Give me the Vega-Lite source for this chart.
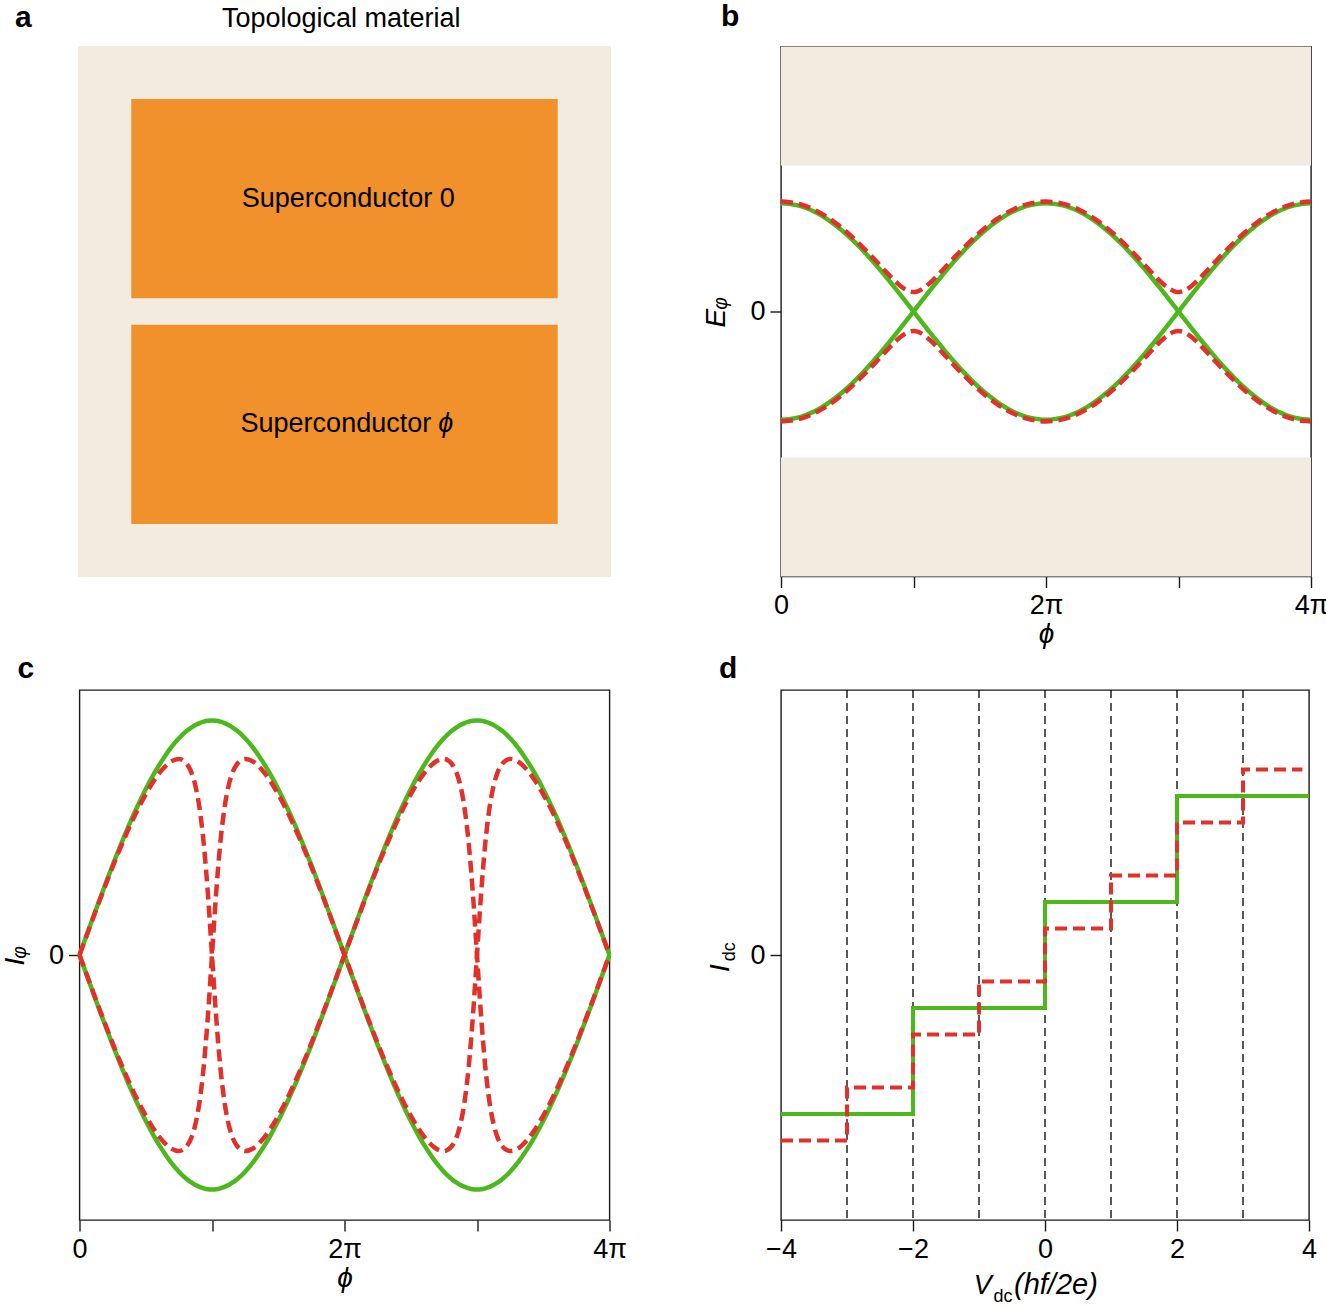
{
"$schema": "https://vega.github.io/schema/vega-lite/v6.json",
"padding": {"left": 0, "top": 0, "right": 0, "bottom": 0},
"background": "white",
"columns": 2,
"spacing": {"row": 113, "column": 170},
"bounds": "flush",
"center": true,
"datasets": {"phi": [
{"p":0,"eg":1,"eg2":-1,"er":1.016,"er2":-1.016,"ig":0,"ig2":0,"ir":0,"ir2":0},
{"p":0.0625,"eg":0.995,"eg2":-0.995,"er":1.011,"er2":-1.011,"ig":0.098,"ig2":-0.098,"ir":0.096,"ir2":-0.096},
{"p":0.125,"eg":0.981,"eg2":-0.981,"er":0.997,"er2":-0.997,"ig":0.195,"ig2":-0.195,"ir":0.192,"ir2":-0.192},
{"p":0.1875,"eg":0.957,"eg2":-0.957,"er":0.974,"er2":-0.974,"ig":0.29,"ig2":-0.29,"ir":0.285,"ir2":-0.285},
{"p":0.25,"eg":0.924,"eg2":-0.924,"er":0.941,"er2":-0.941,"ig":0.383,"ig2":-0.383,"ir":0.376,"ir2":-0.376},
{"p":0.3125,"eg":0.882,"eg2":-0.882,"er":0.9,"er2":-0.9,"ig":0.471,"ig2":-0.471,"ir":0.462,"ir2":-0.462},
{"p":0.375,"eg":0.831,"eg2":-0.831,"er":0.851,"er2":-0.851,"ig":0.556,"ig2":-0.556,"ir":0.543,"ir2":-0.543},
{"p":0.4375,"eg":0.773,"eg2":-0.773,"er":0.794,"er2":-0.794,"ig":0.634,"ig2":-0.634,"ir":0.618,"ir2":-0.618},
{"p":0.5,"eg":0.707,"eg2":-0.707,"er":0.73,"er2":-0.73,"ig":0.707,"ig2":-0.707,"ir":0.685,"ir2":-0.685},
{"p":0.5625,"eg":0.634,"eg2":-0.634,"er":0.659,"er2":-0.659,"ig":0.773,"ig2":-0.773,"ir":0.744,"ir2":-0.744},
{"p":0.625,"eg":0.556,"eg2":-0.556,"er":0.584,"er2":-0.584,"ig":0.831,"ig2":-0.831,"ir":0.791,"ir2":-0.791},
{"p":0.6875,"eg":0.471,"eg2":-0.471,"er":0.505,"er2":-0.505,"ig":0.882,"ig2":-0.882,"ir":0.824,"ir2":-0.824},
{"p":0.75,"eg":0.383,"eg2":-0.383,"er":0.423,"er2":-0.423,"ig":0.924,"ig2":-0.924,"ir":0.836,"ir2":-0.836},
{"p":0.78125,"eg":0.337,"eg2":-0.337,"er":0.382,"er2":-0.382,"ig":0.942,"ig2":-0.942,"ir":0.83,"ir2":-0.83},
{"p":0.8125,"eg":0.29,"eg2":-0.29,"er":0.342,"er2":-0.342,"ig":0.957,"ig2":-0.957,"ir":0.813,"ir2":-0.813},
{"p":0.84375,"eg":0.243,"eg2":-0.243,"er":0.302,"er2":-0.302,"ig":0.97,"ig2":-0.97,"ir":0.78,"ir2":-0.78},
{"p":0.875,"eg":0.195,"eg2":-0.195,"er":0.265,"er2":-0.265,"ig":0.981,"ig2":-0.981,"ir":0.721,"ir2":-0.721},
{"p":0.90625,"eg":0.147,"eg2":-0.147,"er":0.232,"er2":-0.232,"ig":0.989,"ig2":-0.989,"ir":0.625,"ir2":-0.625},
{"p":0.9375,"eg":0.098,"eg2":-0.098,"er":0.205,"er2":-0.205,"ig":0.995,"ig2":-0.995,"ir":0.476,"ir2":-0.476},
{"p":0.96875,"eg":0.049,"eg2":-0.049,"er":0.187,"er2":-0.187,"ig":0.999,"ig2":-0.999,"ir":0.263,"ir2":-0.263},
{"p":1,"eg":0,"eg2":0,"er":0.18,"er2":-0.18,"ig":1,"ig2":-1,"ir":0,"ir2":0},
{"p":1.03125,"eg":-0.049,"eg2":0.049,"er":0.187,"er2":-0.187,"ig":0.999,"ig2":-0.999,"ir":-0.263,"ir2":0.263},
{"p":1.0625,"eg":-0.098,"eg2":0.098,"er":0.205,"er2":-0.205,"ig":0.995,"ig2":-0.995,"ir":-0.476,"ir2":0.476},
{"p":1.09375,"eg":-0.147,"eg2":0.147,"er":0.232,"er2":-0.232,"ig":0.989,"ig2":-0.989,"ir":-0.625,"ir2":0.625},
{"p":1.125,"eg":-0.195,"eg2":0.195,"er":0.265,"er2":-0.265,"ig":0.981,"ig2":-0.981,"ir":-0.721,"ir2":0.721},
{"p":1.15625,"eg":-0.243,"eg2":0.243,"er":0.302,"er2":-0.302,"ig":0.97,"ig2":-0.97,"ir":-0.78,"ir2":0.78},
{"p":1.1875,"eg":-0.29,"eg2":0.29,"er":0.342,"er2":-0.342,"ig":0.957,"ig2":-0.957,"ir":-0.813,"ir2":0.813},
{"p":1.21875,"eg":-0.337,"eg2":0.337,"er":0.382,"er2":-0.382,"ig":0.942,"ig2":-0.942,"ir":-0.83,"ir2":0.83},
{"p":1.25,"eg":-0.383,"eg2":0.383,"er":0.423,"er2":-0.423,"ig":0.924,"ig2":-0.924,"ir":-0.836,"ir2":0.836},
{"p":1.3125,"eg":-0.471,"eg2":0.471,"er":0.505,"er2":-0.505,"ig":0.882,"ig2":-0.882,"ir":-0.824,"ir2":0.824},
{"p":1.375,"eg":-0.556,"eg2":0.556,"er":0.584,"er2":-0.584,"ig":0.831,"ig2":-0.831,"ir":-0.791,"ir2":0.791},
{"p":1.4375,"eg":-0.634,"eg2":0.634,"er":0.659,"er2":-0.659,"ig":0.773,"ig2":-0.773,"ir":-0.744,"ir2":0.744},
{"p":1.5,"eg":-0.707,"eg2":0.707,"er":0.73,"er2":-0.73,"ig":0.707,"ig2":-0.707,"ir":-0.685,"ir2":0.685},
{"p":1.5625,"eg":-0.773,"eg2":0.773,"er":0.794,"er2":-0.794,"ig":0.634,"ig2":-0.634,"ir":-0.618,"ir2":0.618},
{"p":1.625,"eg":-0.831,"eg2":0.831,"er":0.851,"er2":-0.851,"ig":0.556,"ig2":-0.556,"ir":-0.543,"ir2":0.543},
{"p":1.6875,"eg":-0.882,"eg2":0.882,"er":0.9,"er2":-0.9,"ig":0.471,"ig2":-0.471,"ir":-0.462,"ir2":0.462},
{"p":1.75,"eg":-0.924,"eg2":0.924,"er":0.941,"er2":-0.941,"ig":0.383,"ig2":-0.383,"ir":-0.376,"ir2":0.376},
{"p":1.8125,"eg":-0.957,"eg2":0.957,"er":0.974,"er2":-0.974,"ig":0.29,"ig2":-0.29,"ir":-0.285,"ir2":0.285},
{"p":1.875,"eg":-0.981,"eg2":0.981,"er":0.997,"er2":-0.997,"ig":0.195,"ig2":-0.195,"ir":-0.192,"ir2":0.192},
{"p":1.9375,"eg":-0.995,"eg2":0.995,"er":1.011,"er2":-1.011,"ig":0.098,"ig2":-0.098,"ir":-0.096,"ir2":0.096},
{"p":2,"eg":-1,"eg2":1,"er":1.016,"er2":-1.016,"ig":0,"ig2":0,"ir":0,"ir2":0},
{"p":2.0625,"eg":-0.995,"eg2":0.995,"er":1.011,"er2":-1.011,"ig":-0.098,"ig2":0.098,"ir":0.096,"ir2":-0.096},
{"p":2.125,"eg":-0.981,"eg2":0.981,"er":0.997,"er2":-0.997,"ig":-0.195,"ig2":0.195,"ir":0.192,"ir2":-0.192},
{"p":2.1875,"eg":-0.957,"eg2":0.957,"er":0.974,"er2":-0.974,"ig":-0.29,"ig2":0.29,"ir":0.285,"ir2":-0.285},
{"p":2.25,"eg":-0.924,"eg2":0.924,"er":0.941,"er2":-0.941,"ig":-0.383,"ig2":0.383,"ir":0.376,"ir2":-0.376},
{"p":2.3125,"eg":-0.882,"eg2":0.882,"er":0.9,"er2":-0.9,"ig":-0.471,"ig2":0.471,"ir":0.462,"ir2":-0.462},
{"p":2.375,"eg":-0.831,"eg2":0.831,"er":0.851,"er2":-0.851,"ig":-0.556,"ig2":0.556,"ir":0.543,"ir2":-0.543},
{"p":2.4375,"eg":-0.773,"eg2":0.773,"er":0.794,"er2":-0.794,"ig":-0.634,"ig2":0.634,"ir":0.618,"ir2":-0.618},
{"p":2.5,"eg":-0.707,"eg2":0.707,"er":0.73,"er2":-0.73,"ig":-0.707,"ig2":0.707,"ir":0.685,"ir2":-0.685},
{"p":2.5625,"eg":-0.634,"eg2":0.634,"er":0.659,"er2":-0.659,"ig":-0.773,"ig2":0.773,"ir":0.744,"ir2":-0.744},
{"p":2.625,"eg":-0.556,"eg2":0.556,"er":0.584,"er2":-0.584,"ig":-0.831,"ig2":0.831,"ir":0.791,"ir2":-0.791},
{"p":2.6875,"eg":-0.471,"eg2":0.471,"er":0.505,"er2":-0.505,"ig":-0.882,"ig2":0.882,"ir":0.824,"ir2":-0.824},
{"p":2.75,"eg":-0.383,"eg2":0.383,"er":0.423,"er2":-0.423,"ig":-0.924,"ig2":0.924,"ir":0.836,"ir2":-0.836},
{"p":2.78125,"eg":-0.337,"eg2":0.337,"er":0.382,"er2":-0.382,"ig":-0.942,"ig2":0.942,"ir":0.83,"ir2":-0.83},
{"p":2.8125,"eg":-0.29,"eg2":0.29,"er":0.342,"er2":-0.342,"ig":-0.957,"ig2":0.957,"ir":0.813,"ir2":-0.813},
{"p":2.84375,"eg":-0.243,"eg2":0.243,"er":0.302,"er2":-0.302,"ig":-0.97,"ig2":0.97,"ir":0.78,"ir2":-0.78},
{"p":2.875,"eg":-0.195,"eg2":0.195,"er":0.265,"er2":-0.265,"ig":-0.981,"ig2":0.981,"ir":0.721,"ir2":-0.721},
{"p":2.90625,"eg":-0.147,"eg2":0.147,"er":0.232,"er2":-0.232,"ig":-0.989,"ig2":0.989,"ir":0.625,"ir2":-0.625},
{"p":2.9375,"eg":-0.098,"eg2":0.098,"er":0.205,"er2":-0.205,"ig":-0.995,"ig2":0.995,"ir":0.476,"ir2":-0.476},
{"p":2.96875,"eg":-0.049,"eg2":0.049,"er":0.187,"er2":-0.187,"ig":-0.999,"ig2":0.999,"ir":0.263,"ir2":-0.263},
{"p":3,"eg":0,"eg2":0,"er":0.18,"er2":-0.18,"ig":-1,"ig2":1,"ir":0,"ir2":0},
{"p":3.03125,"eg":0.049,"eg2":-0.049,"er":0.187,"er2":-0.187,"ig":-0.999,"ig2":0.999,"ir":-0.263,"ir2":0.263},
{"p":3.0625,"eg":0.098,"eg2":-0.098,"er":0.205,"er2":-0.205,"ig":-0.995,"ig2":0.995,"ir":-0.476,"ir2":0.476},
{"p":3.09375,"eg":0.147,"eg2":-0.147,"er":0.232,"er2":-0.232,"ig":-0.989,"ig2":0.989,"ir":-0.625,"ir2":0.625},
{"p":3.125,"eg":0.195,"eg2":-0.195,"er":0.265,"er2":-0.265,"ig":-0.981,"ig2":0.981,"ir":-0.721,"ir2":0.721},
{"p":3.15625,"eg":0.243,"eg2":-0.243,"er":0.302,"er2":-0.302,"ig":-0.97,"ig2":0.97,"ir":-0.78,"ir2":0.78},
{"p":3.1875,"eg":0.29,"eg2":-0.29,"er":0.342,"er2":-0.342,"ig":-0.957,"ig2":0.957,"ir":-0.813,"ir2":0.813},
{"p":3.21875,"eg":0.337,"eg2":-0.337,"er":0.382,"er2":-0.382,"ig":-0.942,"ig2":0.942,"ir":-0.83,"ir2":0.83},
{"p":3.25,"eg":0.383,"eg2":-0.383,"er":0.423,"er2":-0.423,"ig":-0.924,"ig2":0.924,"ir":-0.836,"ir2":0.836},
{"p":3.3125,"eg":0.471,"eg2":-0.471,"er":0.505,"er2":-0.505,"ig":-0.882,"ig2":0.882,"ir":-0.824,"ir2":0.824},
{"p":3.375,"eg":0.556,"eg2":-0.556,"er":0.584,"er2":-0.584,"ig":-0.831,"ig2":0.831,"ir":-0.791,"ir2":0.791},
{"p":3.4375,"eg":0.634,"eg2":-0.634,"er":0.659,"er2":-0.659,"ig":-0.773,"ig2":0.773,"ir":-0.744,"ir2":0.744},
{"p":3.5,"eg":0.707,"eg2":-0.707,"er":0.73,"er2":-0.73,"ig":-0.707,"ig2":0.707,"ir":-0.685,"ir2":0.685},
{"p":3.5625,"eg":0.773,"eg2":-0.773,"er":0.794,"er2":-0.794,"ig":-0.634,"ig2":0.634,"ir":-0.618,"ir2":0.618},
{"p":3.625,"eg":0.831,"eg2":-0.831,"er":0.851,"er2":-0.851,"ig":-0.556,"ig2":0.556,"ir":-0.543,"ir2":0.543},
{"p":3.6875,"eg":0.882,"eg2":-0.882,"er":0.9,"er2":-0.9,"ig":-0.471,"ig2":0.471,"ir":-0.462,"ir2":0.462},
{"p":3.75,"eg":0.924,"eg2":-0.924,"er":0.941,"er2":-0.941,"ig":-0.383,"ig2":0.383,"ir":-0.376,"ir2":0.376},
{"p":3.8125,"eg":0.957,"eg2":-0.957,"er":0.974,"er2":-0.974,"ig":-0.29,"ig2":0.29,"ir":-0.285,"ir2":0.285},
{"p":3.875,"eg":0.981,"eg2":-0.981,"er":0.997,"er2":-0.997,"ig":-0.195,"ig2":0.195,"ir":-0.192,"ir2":0.192},
{"p":3.9375,"eg":0.995,"eg2":-0.995,"er":1.011,"er2":-1.011,"ig":-0.098,"ig2":0.098,"ir":-0.096,"ir2":0.096},
{"p":4,"eg":1,"eg2":-1,"er":1.016,"er2":-1.016,"ig":0,"ig2":0,"ir":0,"ir2":0}
]},
"concat": [
{
 "width": 533, "height": 531,
 "view": {"stroke": null},
 "layer": [
  {"data": {"values": [
     {"part":"Topological material","x0":0,"x1":100,"y0":0,"y1":100},
     {"part":"Superconductor 0","x0":10,"x1":90,"y0":10,"y1":47.5},
     {"part":"Superconductor ϕ","x0":10,"x1":90,"y0":52.5,"y1":90}]},
   "mark": {"type":"rect"},
   "encoding": {
     "x": {"field":"x0","type":"quantitative","scale":{"domain":[0,100],"nice":false,"zero":false},"axis":null},
     "x2": {"field":"x1"},
     "y": {"field":"y0","type":"quantitative","scale":{"domain":[0,100],"nice":false,"zero":false,"reverse":true},"axis":null},
     "y2": {"field":"y1"},
     "color": {"field":"part","type":"nominal","scale":{"domain":["Topological material","Superconductor 0","Superconductor ϕ"],"range":["#F2EBDF","#F0912B","#F0912B"]},"legend":null}
   }},
  {"data":{"values":[{}]},"mark":{"type":"text","text":"Topological material","fontSize":27,"align":"center","baseline":"alphabetic"},"encoding":{"x":{"datum":49.4,"axis":null},"y":{"datum":-3.5,"axis":null}}},
  {"data":{"values":[{}]},"mark":{"type":"text","text":"a","fontSize":30,"fontWeight":"bold","align":"left","baseline":"alphabetic"},"encoding":{"x":{"datum":-11.8,"axis":null},"y":{"datum":-3.5,"axis":null}}},
  {"data":{"values":[{}]},"mark":{"type":"text","text":"Superconductor 0","fontSize":27,"align":"left","baseline":"middle"},"encoding":{"x":{"datum":30.7,"axis":null},"y":{"datum":28.75,"axis":null}}},
  {"data":{"values":[{}]},"mark":{"type":"text","text":"Superconductor","fontSize":27,"align":"left","baseline":"middle"},"encoding":{"x":{"datum":30.5,"axis":null},"y":{"datum":71.25,"axis":null}}},
  {"data":{"values":[{}]},"mark":{"type":"text","text":"ϕ","fontSize":27,"fontStyle":"italic","align":"left","baseline":"middle"},"encoding":{"x":{"datum":67.6,"axis":null},"y":{"datum":71.25,"axis":null}}}
 ]
},
{
 "width": 530, "height": 530,
 "title": {"text": "b", "dx": -60, "offset": 15},
 "layer": [
  {"data":{"values":[{"lo":1.35,"hi":2.45},{"lo":-2.45,"hi":-1.35}]},
   "mark":{"type":"rect","color":"#F2EBDF"},
   "encoding":{"x":{"datum":0,"type":"quantitative"},"x2":{"datum":4},"y":{"field":"lo","type":"quantitative","title":"Eᵩ"},"y2":{"field":"hi"}}},
  {"data":{"name":"phi"},"transform":[{"fold":["eg","eg2"],"as":["branch","E"]}],
   "mark":{"type":"line","color":"#4CB81C","strokeWidth":4.5,"interpolate":"monotone"},
   "encoding":{
     "x":{"field":"p","type":"quantitative","scale":{"domain":[0,4],"nice":false,"zero":false},"axis":{"values":[0,1,2,3,4],"labelExpr":"datum.value == 0 ? '0' : datum.value == 2 ? '2π' : datum.value == 4 ? '4π' : ''","title":"ϕ","titlePadding":2}},
     "y":{"field":"E","type":"quantitative","scale":{"domain":[-2.45,2.45],"nice":false,"zero":false},"axis":{"values":[0],"format":"d","title":"Eᵩ","titlePadding":19}},
     "detail":{"field":"branch","type":"nominal"}}},
  {"data":{"name":"phi"},"transform":[{"fold":["er","er2"],"as":["branch","E"]}],
   "mark":{"type":"line","color":"#E2302A","strokeWidth":4.5,"strokeDash":[12,6],"interpolate":"monotone"},
   "encoding":{"x":{"field":"p","type":"quantitative","title":"ϕ"},"y":{"field":"E","type":"quantitative","title":"Eᵩ"},"detail":{"field":"branch","type":"nominal"}}}
 ]
},
{
 "width": 530, "height": 530,
 "title": {"text": "c", "dx": -62, "offset": 6},
 "data": {"name": "phi"},
 "layer": [
  {"transform":[{"fold":["ig","ig2"],"as":["branch","I"]}],
   "mark":{"type":"line","color":"#4CB81C","strokeWidth":4.5,"interpolate":"monotone"},
   "encoding":{
     "x":{"field":"p","type":"quantitative","scale":{"domain":[0,4],"nice":false,"zero":false},"axis":{"values":[0,1,2,3,4],"labelExpr":"datum.value == 0 ? '0' : datum.value == 2 ? '2π' : datum.value == 4 ? '4π' : ''","title":"ϕ","titlePadding":2}},
     "y":{"field":"I","type":"quantitative","scale":{"domain":[-1.13,1.13],"nice":false,"zero":false},"axis":{"values":[0],"format":"d","title":"Iᵩ","titlePadding":19}},
     "detail":{"field":"branch","type":"nominal"}}},
  {"transform":[{"fold":["ir","ir2"],"as":["branch","I"]}],
   "mark":{"type":"line","color":"#E2302A","strokeWidth":4.5,"strokeDash":[12,6],"interpolate":"monotone"},
   "encoding":{"x":{"field":"p","type":"quantitative","title":"ϕ"},"y":{"field":"I","type":"quantitative","title":"Iᵩ"},"detail":{"field":"branch","type":"nominal"}}}
 ]
},
{
 "width": 528, "height": 530,
 "title": {"text": "d", "dx": -62, "offset": 5},
 "layer": [
  {"data":{"values":[{"v":-3},{"v":-2},{"v":-1},{"v":0},{"v":1},{"v":2},{"v":3}]},
   "mark":{"type":"rule","color":"black","strokeWidth":1.3,"strokeDash":[8,5]},
   "encoding":{"x":{"field":"v","type":"quantitative","scale":{"domain":[-4,4],"nice":false,"zero":false},"axis":{"values":[-4,-2,0,2,4],"format":"d","title":null}}}},
  {"data":{"values":[{"v":-4,"i":-0.6},{"v":-2,"i":-0.2},{"v":0,"i":0.2},{"v":2,"i":0.6},{"v":4,"i":0.6}]},
   "mark":{"type":"line","color":"#4CB81C","strokeWidth":4,"interpolate":"step-after"},
   "encoding":{"x":{"field":"v","type":"quantitative","title":null},"y":{"field":"i","type":"quantitative","scale":{"domain":[-1,1],"nice":false,"zero":false},"axis":{"values":[0],"format":"d","title":null}}}},
  {"data":{"values":[{"v":-4,"i":-0.7},{"v":-3,"i":-0.5},{"v":-2,"i":-0.3},{"v":-1,"i":-0.1},{"v":0,"i":0.1},{"v":1,"i":0.3},{"v":2,"i":0.5},{"v":3,"i":0.7},{"v":3.9,"i":0.7}]},
   "mark":{"type":"line","color":"#E2302A","strokeWidth":4,"strokeDash":[12,6],"interpolate":"step-after"},
   "encoding":{"x":{"field":"v","type":"quantitative","title":null},"y":{"field":"i","type":"quantitative","title":null}}},
  {"data":{"values":[{}]},"mark":{"type":"text","text":"V","fontSize":27,"fontStyle":"italic","align":"left","baseline":"alphabetic"},"encoding":{"x":{"datum":-1.08,"title":null},"y":{"datum":-1.278,"title":null}}},
  {"data":{"values":[{}]},"mark":{"type":"text","text":"dc","fontSize":18,"align":"left","baseline":"alphabetic"},"encoding":{"x":{"datum":-0.78,"title":null},"y":{"datum":-1.31,"title":null}}},
  {"data":{"values":[{}]},"mark":{"type":"text","text":"(hf/2e)","fontSize":29,"fontStyle":"italic","align":"left","baseline":"alphabetic"},"encoding":{"x":{"datum":-0.47,"title":null},"y":{"datum":-1.278,"title":null}}},
  {"data":{"values":[{}]},"mark":{"type":"text","text":"I","fontSize":28,"fontStyle":"italic","align":"center","baseline":"alphabetic","angle":270},"encoding":{"x":{"datum":-4.79,"title":null},"y":{"datum":-0.049,"title":null}}},
  {"data":{"values":[{}]},"mark":{"type":"text","text":"dc","fontSize":18,"align":"center","baseline":"alphabetic","angle":270},"encoding":{"x":{"datum":-4.695,"title":null},"y":{"datum":0.012,"title":null}}}
 ]
}
],
"config": {
  "font": "Liberation Sans",
  "view": {"stroke": "#1a1a1a", "strokeWidth": 1.4},
  "axis": {"domain": false, "grid": false, "tickColor": "#1a1a1a", "tickWidth": 1.4, "tickSize": 11, "labelFont": "Liberation Sans", "labelFontSize": 27, "labelColor": "black", "labelPadding": 5, "labelFlush": false, "labelOverlap": false, "titleFont": "Liberation Sans", "titleFontSize": 28, "titleFontWeight": "normal", "titleFontStyle": "italic", "titleColor": "black"},
  "title": {"font": "Liberation Sans", "fontSize": 30, "fontWeight": "bold", "color": "black", "anchor": "start", "frame": "group", "baseline": "alphabetic"},
  "text": {"font": "Liberation Sans", "color": "black"}
}
}
